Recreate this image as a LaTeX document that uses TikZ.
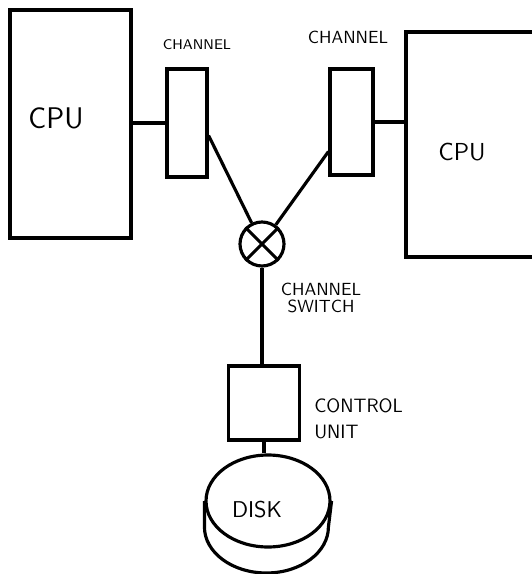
\documentclass[tikz,border=0pt]{standalone}
\usepackage{tikz}
\usetikzlibrary{shapes.geometric}

\begin{document}
\begin{tikzpicture}[x=0.02cm, y=-0.02cm, line width=1.8pt,
    box/.style={draw, rectangle, inner sep=0pt},
    hand/.style={font=\sffamily},
    lbl/.style={hand, inner sep=1pt}]
  \def\fs#1{\fontsize{#1}{#1}\selectfont}
  \useasboundingbox (0,0) rectangle (531,574);

  % processors and channels
  \node[box, minimum width=2.42cm, minimum height=4.56cm] (cpuL) at (70.5,124) {};
  \node[hand] (cpuLtxt) at (56,118) {\fs{17}CPU};
  \node[box, minimum width=0.8cm, minimum height=2.16cm] (chL) at (187,123) {};
  \node[lbl] (chLtxt) at (197,45) {\fs{8}CHANNEL};

  \node[box, minimum width=0.86cm, minimum height=2.12cm] (chR) at (351.5,122) {};
  \node[lbl] (chRtxt) at (348,37) {\fs{10}CHANNEL};
  \node[box, minimum width=2.8cm, minimum height=4.5cm] (cpuR) at (476,144.5) {};
  \node[hand] (cpuRtxt) at (462,152) {\fs{14}CPU};

  \draw (cpuL.east |- chL) -- (chL.west);
  \draw (chR.east) -- (cpuR.west |- chR.east);

  % switch
  \node[draw, circle, minimum size=0.88cm, inner sep=0pt] (sw) at (262,244) {};
  \draw (sw.45) -- (sw.225) (sw.135) -- (sw.315);
  \node[lbl, align=center] (swtxt) at (321,298) {\fs{10}CHANNEL\\[-2pt]\fs{10}SWITCH};
  \draw (chL.-30) -- (sw);
  \draw (chR.232) -- (sw);

  % control unit and disk
  \node[box, minimum width=1.42cm, minimum height=1.48cm] (cu) at (264,403) {};
  \node[lbl, align=left, anchor=west] (cutxt) at (311,419) {\fs{11}CONTROL\\[3pt]\fs{11}UNIT};
  \draw (sw) -- (sw |- cu.north);

  \node[draw, ellipse, minimum width=2.48cm, minimum height=1.84cm, inner sep=0pt] (disk) at (268,501) {};
  \node[hand] (disktxt) at (257,510) {\fs{13}DISK};
  \draw (disk.west) -- ++(0,26)
    arc[start angle=180, end angle=360, x radius=1.24cm, y radius=0.92cm]
    -- (disk.east);
  \draw (cu.south) -- (cu.south |- disk.north);
\end{tikzpicture}
\end{document}
